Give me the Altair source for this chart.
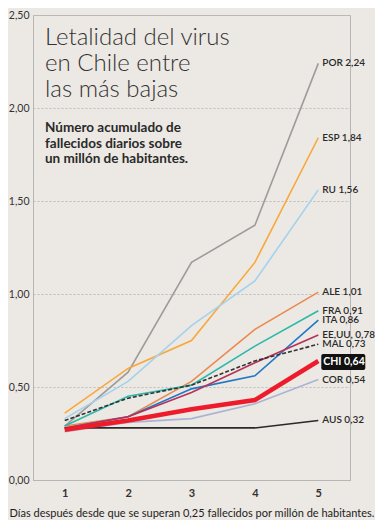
import altair as alt
import pandas as pd

days = [1, 2, 3, 4, 5]
countries = ["POR", "ESP", "RU", "ALE", "FRA", "ITA", "EE.UU.", "MAL", "CHI", "COR", "AUS"]
values = {
    "POR":    [0.29, 0.58, 1.17, 1.37, 2.24],
    "ESP":    [0.36, 0.60, 0.75, 1.17, 1.84],
    "RU":     [0.33, 0.53, 0.83, 1.07, 1.56],
    "ALE":    [0.29, 0.34, 0.53, 0.81, 1.01],
    "FRA":    [0.29, 0.45, 0.51, 0.72, 0.91],
    "ITA":    [0.28, 0.34, 0.49, 0.56, 0.86],
    "EE.UU.": [0.28, 0.34, 0.47, 0.63, 0.78],
    "MAL":    [0.32, 0.44, 0.51, 0.64, 0.73],
    "CHI":    [0.27, 0.32, 0.38, 0.43, 0.64],
    "COR":    [0.26, 0.31, 0.33, 0.41, 0.54],
    "AUS":    [0.28, 0.28, 0.28, 0.28, 0.32],
}
colors = ["#9c9c9c", "#f8a83a", "#a3d2ee", "#ea8a50", "#2cb8aa", "#1f78c6",
          "#b6325a", "#333333", "#ee1c2a", "#aab3d2", "#2a2a2a"]
label_dy = [-1, -1, -2, -3, -7, 0, -1, 1, 1, 2, 2]  # label nudges (px)
x_ticks = [1, 1.5, 2, 2.5, 3, 3.5, 4, 4.5, 5]

title_lines = ["Letalidad del virus", "en Chile entre", "las más bajas"]
subtitle_lines = ["Número acumulado de", "fallecidos diarios sobre", "un millón de habitantes."]
x_title = "Días después desde que se superan 0,25 fallecidos por millón de habitantes."

rows = []
for c in countries:
    for d, v in zip(days, values[c]):
        rows.append({"pais": c, "dia": d, "valor": v})
df = pd.DataFrame(rows)

lab = pd.DataFrame({
    "pais": countries,
    "dia": [days[-1]] * len(countries),
    "valor": [values[c][-1] for c in countries],
    "dy": label_dy,
})
lab["texto"] = [f"{c} {v:.2f}".replace(".", ",") for c, v in zip(lab["pais"], lab["valor"])]

BG = "#ece8e3"
FONT = "Lato"

xscale = alt.Scale(domain=[0.5, 5.5], nice=False, zero=False)
yscale = alt.Scale(domain=[0, 2.5], nice=False)

xaxis = alt.Axis(values=x_ticks, grid=True, gridDash=[2, 2], gridColor="#bdbdbd",
                 gridOpacity={"condition": {"test": "datum.value % 1 != 0", "value": 1}, "value": 0},
                 labelExpr="datum.value % 1 == 0 ? format(datum.value, 'd') : ''",
                 labelFont=FONT, labelFontWeight="bold",
                 labelFontSize=11, labelColor="#333", ticks=False, labelPadding=7,
                 domainColor="#b5b5b5", title=x_title, titleFont=FONT, titleFontSize=11,
                 titleFontWeight="normal", titleColor="#222", titlePadding=9)
yaxis = alt.Axis(values=[0, 0.5, 1, 1.5, 2, 2.5], grid=True, gridDash=[2, 2], gridColor="#bdbdbd",
                 labelExpr="replace(format(datum.value, '.2f'), '.', ',')", labelFont=FONT,
                 labelFontSize=10.5, labelColor="#333", ticks=False, labelPadding=4,
                 domainColor="#b5b5b5", title=None)

color_scale = alt.Scale(domain=countries, range=colors)

others = df[~df["pais"].isin(["MAL", "CHI"])]
base_lines = alt.Chart(others).mark_line(strokeWidth=1.6).encode(
    x=alt.X("dia:Q", scale=xscale, axis=xaxis),
    y=alt.Y("valor:Q", scale=yscale, axis=yaxis),
    color=alt.Color("pais:N", scale=color_scale, legend=None),
)

mal_line = alt.Chart(df[df["pais"] == "MAL"]).mark_line(
    strokeWidth=1.6, strokeDash=[4, 2], color="#333333").encode(
    x=alt.X("dia:Q", scale=xscale), y=alt.Y("valor:Q", scale=yscale))

chi_line = alt.Chart(df[df["pais"] == "CHI"]).mark_line(
    strokeWidth=4.5, color="#ee1c2a").encode(
    x=alt.X("dia:Q", scale=xscale), y=alt.Y("valor:Q", scale=yscale))

other_labels = lab[lab["pais"] != "CHI"]
label_layer = alt.Chart(other_labels).mark_text(
    align="left", baseline="middle", dx=4, font=FONT, fontSize=10, fontWeight=600,
    color="#2a2a2a").encode(
    x=alt.X("dia:Q", scale=xscale), y=alt.Y("valor:Q", scale=yscale),
    yOffset=alt.YOffset("dy:Q", scale=None), text="texto:N")

chi_lab = lab[lab["pais"] == "CHI"]
chi_box = alt.Chart(chi_lab).mark_rect(
    color="#111", cornerRadius=2, xOffset=3, x2Offset=47, yOffset=-7, y2Offset=9).encode(
    x=alt.X("dia:Q", scale=xscale), x2="dia:Q",
    y=alt.Y("valor:Q", scale=yscale), y2="valor:Q")
chi_text = alt.Chart(chi_lab).mark_text(
    align="left", baseline="middle", dx=5, dy=1, font=FONT, fontSize=10.5, fontWeight="bold",
    color="white").encode(
    x=alt.X("dia:Q", scale=xscale), y=alt.Y("valor:Q", scale=yscale), text="texto:N")

title_layer = alt.Chart(pd.DataFrame({"t": [title_lines]})).mark_text(
    align="left", baseline="alphabetic", font=FONT, fontSize=24, fontWeight=300,
    lineHeight=26, color="#333").encode(
    x=alt.value(12), y=alt.value(30), text="t")

sub_layer = alt.Chart(pd.DataFrame({"t": [subtitle_lines]})).mark_text(
    align="left", baseline="alphabetic", font=FONT, fontSize=13.5, fontWeight="bold",
    lineHeight=15.5, color="#2a2a2a").encode(
    x=alt.value(12), y=alt.value(117), text="t")

chart = alt.layer(
    base_lines, mal_line, chi_line, label_layer, chi_box, chi_text,
    title_layer, sub_layer
).properties(
    width=317, height=465,
    autosize=alt.AutoSizeParams(type="none"),
    padding={"left": 25, "top": 7, "right": 25, "bottom": 40},
    background=BG,
).configure_view(stroke="#b5b5b5", strokeWidth=1)

chart.save("out.html", embed_options={"renderer": "svg", "actions": False})
